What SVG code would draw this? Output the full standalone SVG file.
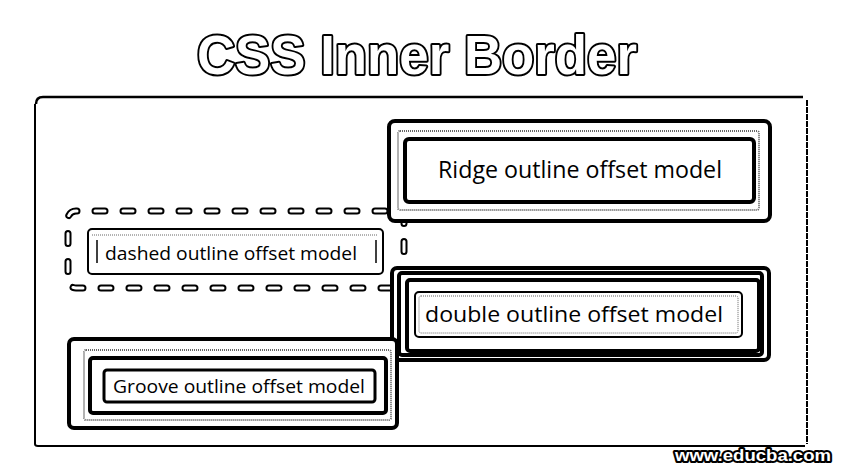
<svg xmlns="http://www.w3.org/2000/svg" width="843" height="472" viewBox="0 0 843 472">
<style>
.bk{fill:none;stroke:#000}
.gr{fill:none;stroke:#666;stroke-dasharray:1 1}
.lbl{font-family:"Open Sans","Noto Sans",sans-serif;fill:#000}
.title{font-family:"Liberation Sans",Arial,sans-serif;font-weight:bold;fill:#fff;stroke:#000;stroke-width:4;paint-order:stroke;stroke-linejoin:round}
.dsh{fill:none;stroke-dasharray:10 18;stroke-dashoffset:9;stroke-linecap:round}
</style>
<rect width="843" height="472" fill="#fff"/>
<g id="title">
<text class="title" x="417" y="74" font-size="56" text-anchor="middle" textLength="440" lengthAdjust="spacingAndGlyphs">CSS Inner Border</text>
</g>
<g id="frame">
<path d="M36,104 Q36,97 43,97 L803,97" class="bk" stroke-width="2.5"/>
<path d="M35,104 L35,444 Q35,446 38,446 L805,446" class="bk" stroke-width="2"/>
<path d="M807,100 L807,444" class="bk" stroke-width="2" stroke-dasharray="6 1"/>
</g>
<g id="connectors"></g>
<g id="dashed">
<rect x="68" y="211" width="336" height="77" rx="8" class="dsh" stroke="#000" stroke-width="7"/>
<rect x="68" y="211" width="336" height="77" rx="8" class="dsh" stroke="#fff" stroke-width="3"/>
<rect x="88" y="229" width="295" height="45" rx="4" class="bk" stroke-width="2"/>
<line x1="92" y1="235" x2="378" y2="235" class="gr"/>
<line x1="97" y1="240" x2="97" y2="263" class="bk" stroke-width="1.5"/>
<line x1="376" y1="240" x2="376" y2="263" class="bk" stroke-width="1.5"/>
<text class="lbl" x="105" y="260" font-size="19" textLength="252" lengthAdjust="spacingAndGlyphs">dashed outline offset model</text>
</g>
<g id="ridge">
<rect x="389" y="121" width="381" height="100" rx="6" fill="#fff" stroke="#000" stroke-width="4"/>
<rect x="398" y="131" width="361" height="79" rx="2" class="gr" stroke-width="2"/>
<rect x="405" y="139" width="349" height="63" rx="4" class="bk" stroke-width="4"/>
<text class="lbl" x="438" y="178" font-size="23" textLength="284" lengthAdjust="spacingAndGlyphs">Ridge outline offset model</text>
</g>
<g id="double">
<rect x="392" y="268" width="377" height="92" rx="5" fill="#fff" stroke="#000" stroke-width="4"/>
<rect x="399" y="273" width="363" height="82" rx="3" class="bk" stroke-width="4"/>
<rect x="407" y="280" width="352" height="71" rx="3" class="bk" stroke-width="4"/>
<rect x="415" y="292" width="327" height="45" rx="4" class="bk" stroke-width="2"/>
<rect x="419" y="296" width="319" height="37" rx="2" class="gr"/>
<text class="lbl" x="425" y="322" font-size="22" textLength="298" lengthAdjust="spacingAndGlyphs">double outline offset model</text>
</g>
<g id="groove">
<rect x="69" y="339" width="328" height="89" rx="5" fill="#fff" stroke="#000" stroke-width="4"/>
<rect x="84" y="350" width="307" height="70" rx="2" class="gr" stroke-width="2"/>
<rect x="90" y="358" width="296" height="55" rx="3" class="bk" stroke-width="4"/>
<rect x="104" y="370" width="271" height="32" rx="3" class="bk" stroke-width="3"/>
<text class="lbl" x="113" y="393" font-size="18" textLength="252" lengthAdjust="spacingAndGlyphs">Groove outline offset model</text>
</g>
<g id="watermark">
<text x="753" y="461" font-family="Liberation Sans, Arial, sans-serif" font-weight="bold" font-size="17" fill="#fff" stroke="#000" stroke-width="4" paint-order="stroke" stroke-linejoin="round" text-anchor="middle" textLength="156" lengthAdjust="spacingAndGlyphs">www.educba.com</text>
</g>
</svg>
